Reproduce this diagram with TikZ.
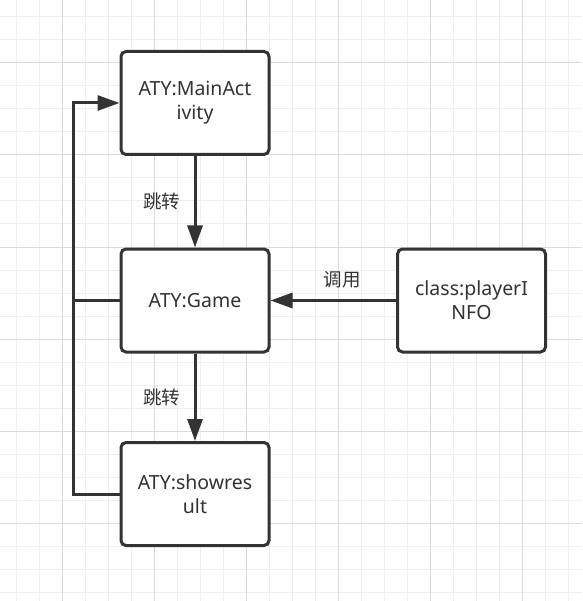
\documentclass[tikz,border=0pt]{standalone}
\usepackage{fontspec}
\setmainfont{Noto Sans}
\newfontfamily\cjk{Noto Sans CJK SC}
\usetikzlibrary{arrows.meta}
\definecolor{linegray}{HTML}{333333}
\definecolor{gridminor}{HTML}{EFEFEF}
\definecolor{gridmajor}{HTML}{DCDCDC}

\begin{document}
\begin{tikzpicture}[x=1pt, y=-1pt,
  box/.style={draw=linegray, line width=3pt, rounded corners=5pt, minimum width=148pt, minimum height=103pt, inner sep=0pt, align=center, text=linegray, font=\fontsize{19.5}{24}\selectfont},
  flow/.style={draw=linegray, line width=3pt, -{Triangle[length=22pt, width=15pt]}},
  wire/.style={draw=linegray, line width=3pt},
  lbl/.style={text=linegray, font=\cjk\fontsize{18.5}{22}\selectfont}]
  \useasboundingbox (0,0) rectangle (582,601);
  \fill [white] (0,0) rectangle (582,601);
  % grid
  \foreach \x in {-7,16,...,582} \draw [gridminor, line width=1pt] (\x,0) -- (\x,601);
  \foreach \y in {-6,17,...,601} \draw [gridminor, line width=1pt] (0,\y) -- (582,\y);
  \foreach \x in {62,154,...,582} \draw [gridmajor, line width=1pt] (\x,0) -- (\x,601);
  \foreach \y in {63,155,...,601} \draw [gridmajor, line width=1pt] (0,\y) -- (582,\y);
  % activities
  \node [box, fill=white] (main) at (195,103) {ATY:MainAct\\ivity};
  \node [box, fill=white] (game) at (195,300.5) {ATY:Game};
  \node [box, fill=white] (result) at (195,494) {ATY:showres\\ult};
  \node [box, fill=white] (player) at (471.5,300.5) {class:playerI\\NFO};
  % connectors
  \draw [flow] (main) -- node [lbl, left=10pt] {跳转} (game);
  \draw [flow] (game) -- node [lbl, left=10pt] {跳转} (result);
  \draw [flow] (player) -- node [lbl, pos=0.43, above=8pt] {调用} (game);
  \draw [flow, rounded corners=0pt] (result.west) -- ++(-46,0) |- (main.west);
  \draw [wire] (game.west) -- ++(-46,0);
\end{tikzpicture}
\end{document}
